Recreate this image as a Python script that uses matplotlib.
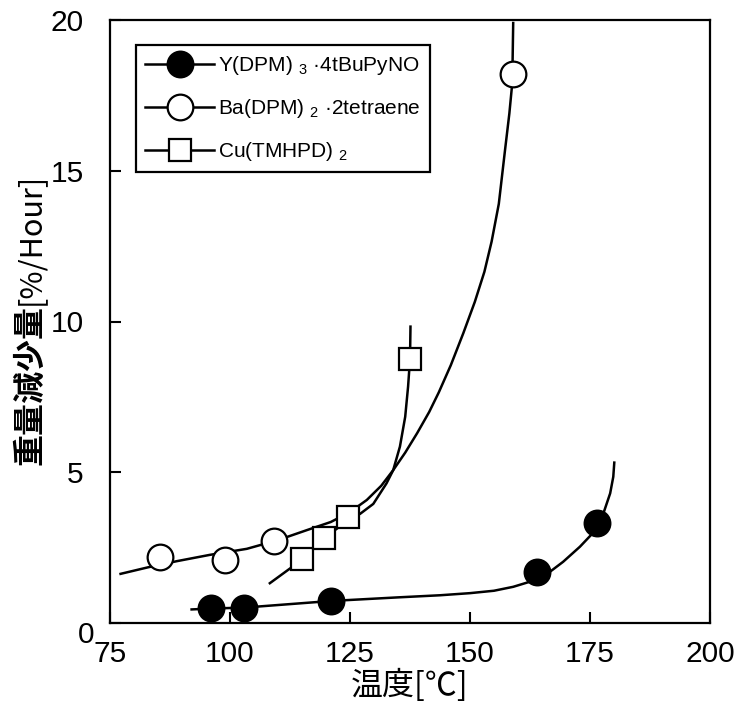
import matplotlib
matplotlib.use("Agg")
import matplotlib.pyplot as plt
from matplotlib.lines import Line2D
import matplotlib.transforms as mtransforms

plt.rcParams['font.family'] = ['Liberation Sans', 'DejaVu Sans']
plt.rcParams['mathtext.fontset'] = 'custom'
plt.rcParams['mathtext.rm'] = 'Liberation Sans'

# ---- data ----
y_x = [96.0, 102.9, 121.0, 164.0, 176.4]
y_y = [0.49, 0.49, 0.73, 1.70, 3.31]
ba_x = [85.4, 99.0, 109.2, 158.9]
ba_y = [2.20, 2.09, 2.73, 18.2]
cu_x = [115.1, 119.6, 124.6, 137.5]
cu_y = [2.11, 2.83, 3.51, 8.75]

# fitted curves as drawn in the picture
y_curve_x = [92.0, 96.0, 102.9, 121.0, 135.0, 143.75, 150.0, 155.0, 159.0, 162.5, 166.0, 169.4,
             172.9, 175.7, 177.8, 179.2, 179.85, 180.06]
y_curve_y = [0.45, 0.48, 0.51, 0.73, 0.85, 0.92, 0.99, 1.07, 1.20, 1.37, 1.62, 2.03,
             2.53, 3.00, 3.64, 4.30, 4.85, 5.32]

ba_curve_x = [77.2, 83.0, 88.9, 95.8, 103.5, 110.0, 116.0, 121.0, 125.0, 128.5,
              131.5, 134.0, 136.5, 139.0, 141.5, 143.5, 146.0, 148.6, 151.0, 153.0,
              154.5, 156.0, 157.3, 158.2, 158.8, 159.0]
ba_curve_y = [1.63, 1.85, 2.05, 2.26, 2.46, 2.75, 3.08, 3.35, 3.68, 4.08,
              4.55, 5.07, 5.65, 6.30, 7.00, 7.65, 8.55, 9.61, 10.65, 11.65,
              12.65, 13.90, 15.69, 16.90, 17.90, 19.90]

cu_curve_x = [108.3, 115.1, 119.6, 122.2, 124.6, 127.1, 129.85, 132.6, 134.0, 135.4,
              136.5, 137.1, 137.5, 137.6]
cu_curve_y = [1.32, 2.11, 2.83, 3.12, 3.45, 3.62, 3.95, 4.63, 5.07, 5.85,
              6.84, 7.84, 8.75, 9.83]

labels = [r"Y(DPM) $_{3}$ ·4tBuPyNO", r"Ba(DPM) $_{2}$ ·2tetraene", r"Cu(TMHPD) $_{2}$"]
x_ticks = [75, 100, 125, 150, 175, 200]
y_ticks = [0, 5, 10, 15, 20]

fig = plt.figure(figsize=(7.47, 7.04), dpi=100)
ax = fig.add_axes([110/747, 81/704, 600/747, 603/704])

lw = 1.8
ms_c = 18.5
ms_s = 16.5
mew = 1.6

ax.plot(y_curve_x, y_curve_y, color='black', lw=lw, zorder=2)
ax.plot(ba_curve_x, ba_curve_y, color='black', lw=lw, zorder=2)
ax.plot(cu_curve_x, cu_curve_y, color='black', lw=lw, zorder=2)

ax.plot(y_x, y_y, ls='none', marker='o', ms=ms_c, mfc='black', mec='black', mew=mew, zorder=3)
ax.plot(ba_x, ba_y, ls='none', marker='o', ms=ms_c, mfc='white', mec='black', mew=mew, zorder=3)
ax.plot(cu_x, cu_y, ls='none', marker='s', ms=ms_s, mfc='white', mec='black', mew=mew, zorder=3)

ax.set_xlim(75, 200)
ax.set_ylim(0, 20)
ax.set_xticks(x_ticks)
ax.set_yticks(y_ticks)
ax.tick_params(axis='both', direction='in', length=8, width=1.5, labelsize=21.5)
ax.tick_params(axis='x', pad=12)
ax.tick_params(axis='y', pad=19)
for s in ax.spines.values():
    s.set_linewidth(1.6)

# shift "0" label down/right like the reference
lab0 = ax.get_yticklabels()[0]
lab0.set_transform(lab0.get_transform() + mtransforms.ScaledTranslation(11/100, -9/100, fig.dpi_scale_trans))

handles = [
    Line2D([], [], color='black', lw=lw, marker='o', ms=ms_c, mfc='black', mec='black', mew=mew),
    Line2D([], [], color='black', lw=lw, marker='o', ms=ms_c, mfc='white', mec='black', mew=mew),
    Line2D([], [], color='black', lw=lw, marker='s', ms=ms_s, mfc='white', mec='black', mew=mew),
]
leg = ax.legend(handles, labels, loc='upper left', bbox_to_anchor=(0.043, 0.9585),
                borderaxespad=0, fontsize=15, handlelength=3.3, handletextpad=0.2,
                labelspacing=0.95, borderpad=0.45, fancybox=False, framealpha=1,
                edgecolor='black')
leg.get_frame().set_linewidth(1.6)

cjk = ['Noto Sans CJK JP', 'DejaVu Sans']
fig.text(410/747, 1 - 685/704, "温度[℃]", family=cjk, fontsize=23,
         ha='center', va='center')
t1 = fig.text(30/747, 1 - 385/704, "重量減少量", family=cjk, fontsize=23, fontweight='bold',
              rotation=90, ha='center', va='center')
ax.annotate("[%/Hour]", xy=(0.5, 1.0), xycoords=t1, family=cjk, fontsize=22,
            rotation=90, ha='center', va='bottom')

fig.savefig("out.png", dpi=100)
